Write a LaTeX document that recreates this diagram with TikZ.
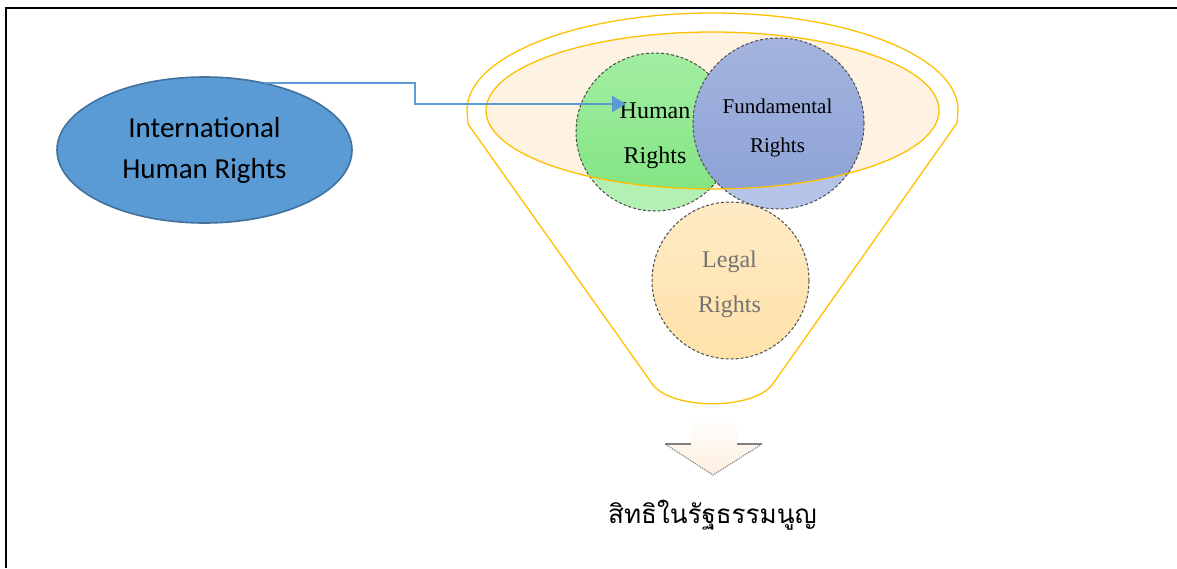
\documentclass[tikz,border=0pt]{standalone}
\usepackage{fontspec}
\setmainfont{Liberation Serif}
\newfontfamily\calfont{Carlito}
\newfontfamily\thaifont[Script=Thai]{Loma}
\usetikzlibrary{shapes.geometric,arrows.meta,calc}
\definecolor{gold}{HTML}{FFC000}
\definecolor{ellfill}{HTML}{FEF2E2}
\definecolor{greenL}{HTML}{B3F0B3}
\definecolor{greenT}{HTML}{A2EEA2}
\definecolor{greenB}{HTML}{7FE37F}
\definecolor{blueL}{HTML}{B6C3E8}
\definecolor{blueT}{HTML}{A4B4DE}
\definecolor{blueB}{HTML}{8BA0D5}
\definecolor{legalT}{HTML}{FEEAC4}
\definecolor{legalB}{HTML}{FFE2AA}
\definecolor{intlfill}{HTML}{5B9BD5}
\definecolor{intldraw}{HTML}{41719C}
\definecolor{arrfill}{HTML}{FCEEDD}
\tikzset{
  frameline/.style={line width=2.2pt,black},
  funnelline/.style={draw=gold,line width=1.3pt},
  intlnode/.style={ellipse,fill=intlfill,draw=intldraw,line width=1.6pt,minimum width=295pt,minimum height=146pt,inner sep=0pt,align=center,font=\calfont\fontsize{29}{41}\selectfont},
  circnode/.style={circle,draw=gray!60!black,densely dashed,line width=1pt,inner sep=0pt},
  ctext/.style={anchor=base,inner sep=0pt,font=\fontsize{24}{28}\selectfont},
  conn/.style={draw=intlfill,line width=2.2pt,-{Triangle[length=14pt,width=16pt]}},
}
\begin{document}
\begin{tikzpicture}[x=1pt,y=-1pt]
\useasboundingbox (0,0) rectangle (1177,568);
% frame
\draw[frameline] (6,568) -- (6,8) -- (1177,8);
% funnel outline
\draw[funnelline] (467,110) arc[start angle=180,end angle=0,x radius=245.5pt,y radius=97pt]
  -- (957,123) -- (772,385) .. controls (752,410) and (673,410) .. (653,385) -- (468,124) -- cycle;
% inner ellipse fill
\fill[ellfill] (712.5,110.5) ellipse [x radius=226.5pt,y radius=78.5pt];
% green circle
\fill[greenL] (655,132) circle (79pt);
\begin{scope}
\clip (712.5,110.5) ellipse [x radius=226.5pt,y radius=78.5pt];
\shade[top color=greenT,bottom color=greenB] (655,132) circle (79pt);
\end{scope}
\node[circnode,minimum size=158pt] (hr) at (655,132) {};
\node[ctext] (hr1) at (655,118) {Human};
\node[ctext] (hr2) at (655,163) {Rights};
% blue circle
\fill[blueL] (778.5,123.5) circle (85.5pt);
\begin{scope}
\clip (712.5,110.5) ellipse [x radius=226.5pt,y radius=78.5pt];
\shade[top color=blueT,bottom color=blueB] (778.5,123.5) circle (85.5pt);
\end{scope}
\node[circnode,minimum size=171pt] (fr) at (778.5,123.5) {};
\node[ctext,font=\fontsize{21}{24}\selectfont] (fr1) at (777.5,113) {Fundamental};
\node[ctext,font=\fontsize{21}{24}\selectfont] (fr2) at (777.5,152) {Rights};
% legal circle
\node[circnode,minimum size=157pt,top color=legalT,bottom color=legalB] (lr) at (730.5,280.5) {};
\node[ctext,text=gray!90!black] (lr1) at (729.5,267) {Legal};
\node[ctext,text=gray!90!black] (lr2) at (729.5,312) {Rights};
% inner ellipse stroke
\draw[funnelline] (712.5,110.5) ellipse [x radius=226.5pt,y radius=78.5pt];
% international node and connector
\node[intlnode] (intl) at (204.5,150) {International\\Human Rights};
\coordinate (tip) at (626,104);
\draw[conn] (intl.48) -- ++(150,0) |- (tip);
% down arrow
\shade[top color=white,bottom color=arrfill] (691,417) -- (737,417) -- (737,444) -- (762,444) -- (713,475) -- (665,444) -- (691,444) -- cycle;
\draw[gray,line width=1.2pt] (665,444) -- (691,444) (737,444) -- (762,444);
\draw[gray,densely dotted,line width=1.1pt] (665,444) -- (713,475) -- (762,444);
% Thai text
\node[font=\thaifont\fontsize{26}{32}\selectfont,anchor=base] (thai) at (712.5,523) {สิทธิในรัฐธรรมนูญ};
\end{tikzpicture}
\end{document}
